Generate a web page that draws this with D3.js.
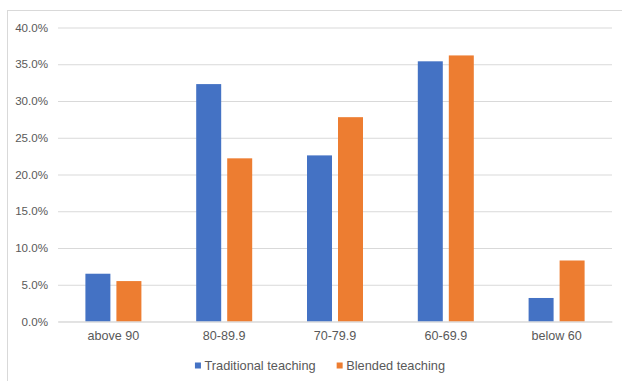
<!DOCTYPE html>
<html>
<head>
<meta charset="utf-8">
<script src="https://cdn.jsdelivr.net/npm/d3@7"></script>
<style>
  html, body { margin: 0; padding: 0; background: #fff; }
  svg { display: block; }
  text { font-family: "Liberation Sans", Arial, sans-serif; fill: #595959; }
</style>
</head>
<body>
<svg id="chart" width="622" height="381"></svg>
<script>
// Score bands and share of students in each band
const categories = ["above 90", "80-89.9", "70-79.9", "60-69.9", "below 60"];
const seriesNames = ["Traditional teaching", "Blended teaching"];
const traditional = [0.065, 0.323, 0.226, 0.354, 0.032];
const blended = [0.055, 0.222, 0.278, 0.362, 0.083];
const yTicks = [0, 0.05, 0.10, 0.15, 0.20, 0.25, 0.30, 0.35, 0.40];
const colors = ["#4472C4", "#ED7D31"];

const seriesValues = [traditional, blended];
const rows = categories.map((c, i) => ({
  category: c,
  values: seriesNames.map((s, j) => ({ series: s, value: seriesValues[j][i], color: colors[j] }))
}));

const svg = d3.select("#chart");

// Outer chart frame
svg.append("rect")
  .attr("x", 7.5).attr("y", 10.5)
  .attr("width", 640).attr("height", 400)
  .attr("fill", "none").attr("stroke", "#d9d9d9").attr("stroke-width", 1);

const plot = { left: 58, right: 612, top: 27.5, bottom: 321.5 };

const x0 = d3.scaleBand().domain(categories).range([plot.left, plot.right]).padding(0);
const half = 28;
const x1 = d3.scaleBand().domain(seriesNames)
  .range([x0.bandwidth() / 2 - half, x0.bandwidth() / 2 + half])
  .paddingInner(0.194).paddingOuter(0);
const y = d3.scaleLinear().domain([0, 0.4]).range([plot.bottom, plot.top]);

// Gridlines and y labels
const yAxis = d3.axisLeft(y)
  .tickValues(yTicks)
  .tickSize(-(plot.right - plot.left))
  .tickPadding(10)
  .tickFormat(d3.format(".1%"));

const gy = svg.append("g")
  .attr("transform", `translate(${plot.left},0)`)
  .call(yAxis);
gy.select(".domain").remove();
gy.selectAll(".tick line").attr("stroke", "#d9d9d9").attr("stroke-width", 1);
gy.selectAll(".tick text")
  .attr("font-size", 11.6)
  .attr("x", -10)
  .style("fill", "#595959");

// Bars
const groups = svg.append("g").selectAll("g")
  .data(rows)
  .join("g")
  .attr("transform", d => `translate(${x0(d.category)},0)`);

groups.selectAll("rect")
  .data(d => d.values)
  .join("rect")
  .attr("x", d => x1(d.series))
  .attr("width", x1.bandwidth())
  .attr("y", d => y(d.value))
  .attr("height", d => y(0) - y(d.value))
  .attr("fill", d => d.color);

// Category axis
const xAxis = d3.axisBottom(x0).tickSize(0).tickPadding(10);
const gx = svg.append("g")
  .attr("transform", `translate(0,${plot.bottom})`)
  .call(xAxis);
gx.select(".domain").attr("stroke", "#d9d9d9");
gx.selectAll(".tick text").attr("font-size", 12.6).style("fill", "#595959");

// Legend
const legend = svg.append("g");
const items = legend.selectAll("g")
  .data(seriesNames.map((s, i) => ({ name: s, color: colors[i] })))
  .join("g");
items.append("rect")
  .attr("width", 6).attr("height", 6)
  .attr("y", -6)
  .attr("fill", d => d.color);
items.append("text")
  .attr("x", 9.5)
  .attr("y", 0)
  .attr("dy", "0.1em")
  .attr("font-size", 12.8)
  .text(d => d.name);

let offset = 0;
const gap = 21;
items.each(function () {
  const g = d3.select(this);
  g.attr("transform", `translate(${offset},0)`);
  offset += 9.5 + g.select("text").node().getComputedTextLength() + gap;
});
const total = offset - gap;
legend.attr("transform", `translate(${320 - total / 2},368.5)`);
</script>
</body>
</html>
